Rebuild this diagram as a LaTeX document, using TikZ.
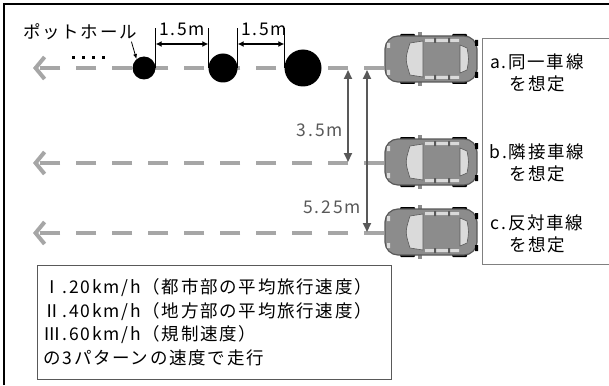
\documentclass[tikz,border=0pt]{standalone}
\usepackage{fontspec}
\newfontfamily\jpfont{Noto Sans CJK JP}[LetterSpace=10]
\usetikzlibrary{arrows.meta,positioning}

\definecolor{lanegray}{HTML}{A6A6A6}
\definecolor{dimgray}{HTML}{595959}
\definecolor{bodygray}{HTML}{8C8C8C}
\definecolor{glassgray}{HTML}{DADADA}

\tikzset{
  % top view of a car, nose to the left
  car/.pic={
    \foreach \x in {-31,21}
      \fill[black, rounded corners=1pt] (\x,-25) rectangle ++(15,50);
    \fill[bodygray] (-13,-27) rectangle (-9,27);
    \node[draw=dimgray, fill=bodygray, line width=1.2pt, rounded corners=13pt,
          minimum width=92pt, minimum height=46pt, inner sep=0pt] (-body) at (0,0) {};
    \filldraw[glassgray, draw=dimgray, line width=.6pt]
      (-21,-16) .. controls (-26,0) .. (-21,16) -- (-8,18) -- (-8,-18) -- cycle;
    \filldraw[glassgray, draw=dimgray, line width=.6pt]
      (29,-14) -- (36,-11) .. controls (38,0) .. (36,11) -- (29,14) -- cycle;
    \fill[glassgray] (-6,-20) rectangle (28,-17) (-6,17) rectangle (28,20);
    \foreach \x in {3,17}
      \fill[dimgray] (\x,-21) rectangle ++(2,5) (\x,16) rectangle ++(2,5);
    \fill[black] (44,-19) rectangle (47,-13) (44,13) rectangle (47,19);
    \fill[glassgray] (-44,-16) rectangle (-41,-11) (-44,11) rectangle (-41,16);
  }
}

\begin{document}
\begin{tikzpicture}[
  x=1pt, y=-1pt,
  every node/.style={font=\jpfont\fontsize{17.5}{22}\selectfont},
  lane/.style={draw=lanegray, line width=4pt, dash pattern=on 20pt off 16pt,
    -{Straight Barb[length=9pt,width=22pt,line width=4pt]}},
  hole/.style={circle, fill=black, inner sep=0pt},
  tick/.style={black, line width=.8pt},
  dim/.style={black, line width=1.2pt, {Latex[length=6pt,width=6pt]}-{Latex[length=6pt,width=6pt]}},
  gap/.style={dimgray, line width=2pt, {Triangle[length=9pt,width=8pt]}-{Triangle[length=9pt,width=8pt]}},
  labelbox/.style={draw=gray, line width=.8pt, inner sep=0pt},
  infobox/.style={draw=dimgray, line width=.8pt, align=left, inner xsep=6pt,
    minimum width=354pt, minimum height=114pt, text width=342pt,
    font=\jpfont\fontsize{17.5}{23.5}\selectfont}
]
\useasboundingbox (0,0) rectangle (609,385);
\clip (0,0) rectangle (609,385);

% frame
\draw[black, line width=1.5pt] (4,385) -- (4,4) -- (609,4);

% cars
\pic (cara) at (431,59) {car};
\pic (carb) at (431,162) {car};
\pic (carc) at (431,232) {car};

% lanes
\coordinate (enda) at (33,68);
\coordinate (endb) at (33,163);
\coordinate (endc) at (33,233);
\draw[lane] ([yshift=-9pt]cara-body.west) -- (enda);
\draw[lane] ([yshift=-1pt]carb-body.west) -- (endb);
\draw[lane] ([yshift=-1pt]carc-body.west) -- (endc);
\draw[black, line width=3pt, dash pattern=on 3pt off 7pt] (72,58) -- (109,58);

% potholes
\node[hole, minimum size=23pt] (p1) at (144,68) {};
\node[hole, minimum size=29pt] (p2) at (223,68) {};
\node[hole, minimum size=37pt] (p3) at (303,68) {};
\node (pothole) at (80,32) {ポットホール};
\draw[black, line width=.8pt, -{Latex[length=5pt,width=4pt]}] ([xshift=-9pt,yshift=2pt]pothole.south east) -- (p1.130);

% spacing between potholes
\coordinate (dimy) at (0,44);
\draw[tick] (p1.east) -- ++(0,-40);
\draw[tick] (p2.west) -- ++(0,-40);
\draw[tick] (p2.east) -- ++(0,-40);
\draw[tick] (p3.west) -- ++(0,-40);
\draw[dim] (p1.east |- dimy) -- node[above=4pt] (gap1) {1.5m} (p2.west |- dimy);
\draw[dim] (p2.east |- dimy) -- node[above=4pt, xshift=3pt] (gap2) {1.5m} (p3.west |- dimy);

% lateral offsets of lanes b and c
\coordinate (offa) at (348,70);
\coordinate (offb) at (348,162);
\coordinate (offa2) at (367,70);
\coordinate (offc) at (367,232);
\draw[gap] (offa) -- node[left=1pt, pos=.65] (wb) {3.5m} (offb);
\draw[gap] (offa2) -- node[left=2pt, pos=.85] (wc) {5.25m} (offc);

% lane labels
\node[labelbox, anchor=north west, minimum width=140pt, minimum height=226pt] (lanebox) at (482,38) {};
\node[align=center] (laba) at (537,73) {a.同一車線\\を想定};
\node[align=center] (labb) at (537,163) {b.隣接車線\\を想定};
\node[align=center] (labc) at (537,234) {c.反対車線\\を想定};

% driving speeds
\node[infobox, anchor=north west] (speeds) at (37,265)
  {Ⅰ.20km/h（都市部の平均旅行速度）\\
   Ⅱ.40km/h（地方部の平均旅行速度）\\
   Ⅲ.60km/h（規制速度）\\
   の3パターンの速度で走行};
\end{tikzpicture}
\end{document}
